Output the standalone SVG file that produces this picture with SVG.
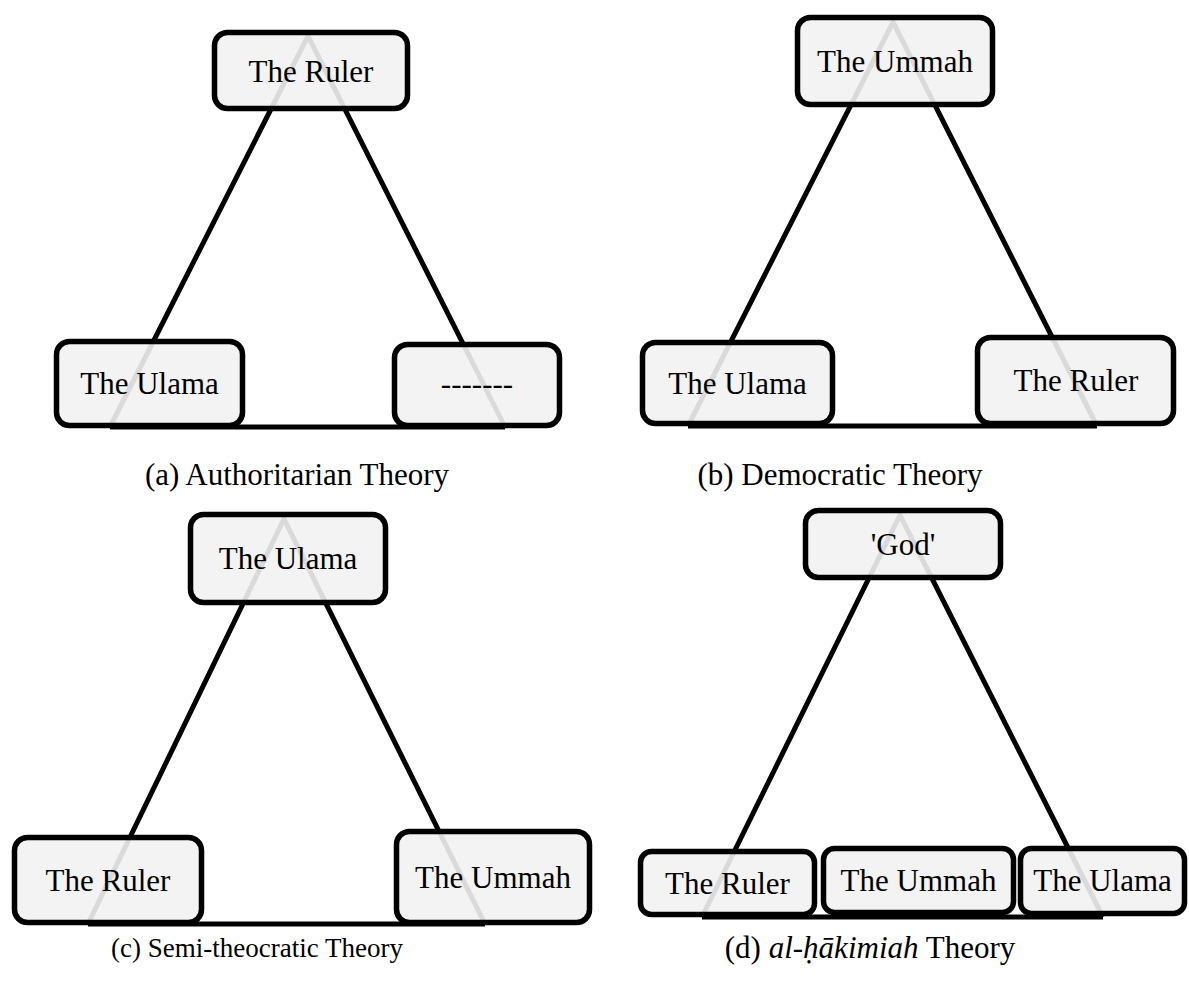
<svg xmlns="http://www.w3.org/2000/svg" width="1189" height="986" viewBox="0 0 1189 986">
<style>
.edge{fill:none;stroke:#000;stroke-width:5;stroke-linejoin:miter}
.box{fill:#f2f2f2;fill-opacity:0.9;stroke:#000;stroke-width:5.5}
.t{font-family:"Liberation Serif","Times New Roman",serif;font-size:31px;fill:#000;text-anchor:middle}
.small{font-size:27px}
</style>
<rect width="1189" height="986" fill="#fff"/>
<g id="connectors">
<polyline class="edge" points="110,427 308,36 505,427"/>
<line class="edge" x1="110" y1="427" x2="505" y2="427"/>
<polyline class="edge" points="688,426 893,22 1097,426"/>
<line class="edge" x1="688" y1="426" x2="1097" y2="426"/>
<polyline class="edge" points="88,924 284,519 485,924"/>
<line class="edge" x1="88" y1="924" x2="485" y2="924"/>
<polyline class="edge" points="702,917 900,515 1103,917"/>
<line class="edge" x1="702" y1="917" x2="1103" y2="917"/>
</g>
<g id="a-ruler"><rect class="box" x="214.5" y="32.5" width="193" height="76" rx="13"/><text class="t" x="311" y="82">The Ruler</text></g>
<g id="a-ulama"><rect class="box" x="56.5" y="341.5" width="186" height="84" rx="13"/><text class="t" x="149.5" y="394">The Ulama</text></g>
<g id="a-blank"><rect class="box" x="394.5" y="344.5" width="165" height="81" rx="13"/><text class="t" x="477" y="394">-------</text></g>
<g id="b-ummah"><rect class="box" x="797.5" y="17.5" width="195" height="87" rx="13"/><text class="t" x="895" y="72">The Ummah</text></g>
<g id="b-ulama"><rect class="box" x="642.5" y="342.5" width="190" height="81" rx="13"/><text class="t" x="737.5" y="394">The Ulama</text></g>
<g id="b-ruler"><rect class="box" x="977.5" y="337.5" width="196" height="86" rx="13"/><text class="t" x="1076" y="391">The Ruler</text></g>
<g id="c-ulama"><rect class="box" x="190.5" y="514.5" width="195" height="88" rx="13"/><text class="t" x="288" y="569">The Ulama</text></g>
<g id="c-ruler"><rect class="box" x="14.5" y="837.5" width="187" height="85" rx="13"/><text class="t" x="108" y="891">The Ruler</text></g>
<g id="c-ummah"><rect class="box" x="396.5" y="831.5" width="193" height="91" rx="13"/><text class="t" x="493" y="888">The Ummah</text></g>
<g id="d-god"><rect class="box" x="805.5" y="510.5" width="195" height="67" rx="13"/><text class="t" x="903" y="555">'God'</text></g>
<g id="d-ruler"><rect class="box" x="640.5" y="851.5" width="174" height="63" rx="11"/><text class="t" x="727.5" y="894">The Ruler</text></g>
<g id="d-ummah"><rect class="box" x="823.5" y="848.5" width="190" height="64" rx="11"/><text class="t" x="918.5" y="891">The Ummah</text></g>
<g id="d-ulama"><rect class="box" x="1020.5" y="848.5" width="164" height="65" rx="11"/><text class="t" x="1102.5" y="891">The Ulama</text></g>
<g id="captions">
<text class="t" x="297" y="485">(a) Authoritarian Theory</text>
<text class="t" x="840" y="485">(b) Democratic Theory</text>
<text class="t small" x="257" y="957">(c) Semi-theocratic Theory</text>
<text class="t" x="870" y="958">(d) <tspan font-style="italic">al-ḥākimiah</tspan> Theory</text>
</g>
</svg>
